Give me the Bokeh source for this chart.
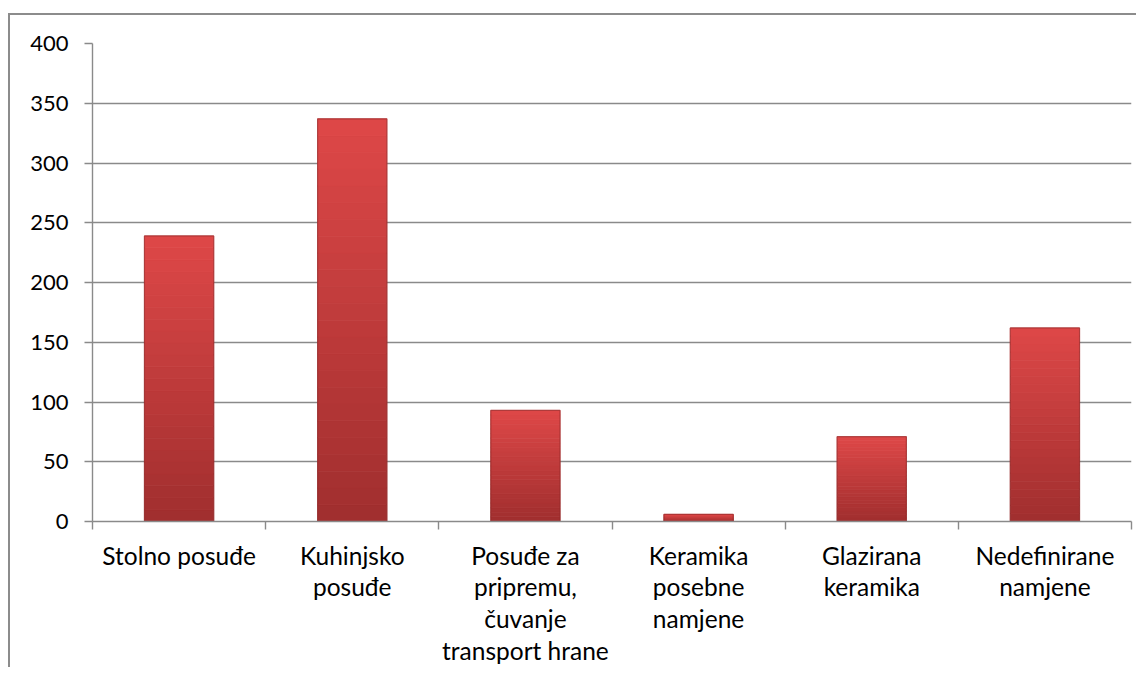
from bokeh.plotting import figure
from bokeh.models import FixedTicker, Range1d, ColumnDataSource
from bokeh.embed import file_html
from bokeh.resources import INLINE

categories = ["Stolno posuđe", "Kuhinjsko posuđe", "Posuđe za pripremu, čuvanje transport hrane",
              "Keramika posebne namjene", "Glazirana keramika", "Nedefinirane namjene"]
tick_labels = ["Stolno posuđe", "Kuhinjsko\nposuđe", "Posuđe za\npripremu,\nčuvanje\ntransport hrane",
               "Keramika\nposebne\nnamjene", "Glazirana\nkeramika", "Nedefinirane\nnamjene"]
values = [239, 337, 93, 6, 71, 162]
y_ticks = [0, 50, 100, 150, 200, 250, 300, 350, 400]

FONT = "Lato"
GRAY = "#8a8a8a"

p = figure(width=1128, height=654, output_backend="svg", toolbar_location=None,
           x_range=Range1d(0, len(categories)), y_range=Range1d(0, 400),
           min_border_left=82, min_border_top=28, min_border_right=7, min_border_bottom=148,
           styles={"border-top": "2px solid #8c8c8c", "border-left": "2px solid #8c8c8c",
                   "margin-top": "13px", "margin-left": "8px"})
p.outline_line_color = None
p.xgrid.grid_line_color = None
p.ygrid.grid_line_color = GRAY
p.ygrid.grid_line_width = 1.4
p.ygrid.ticker = FixedTicker(ticks=y_ticks)

centers = [i + 0.5 for i in range(len(categories))]

# bars with a vertical gradient approximated by slices
N = 24
top_rgb = (222, 72, 72)
bot_rgb = (160, 46, 46)
for k in range(N):
    f0, f1 = k / N, (k + 1) / N
    t = (k + 0.5) / N
    c = tuple(int(round(bot_rgb[j] + (top_rgb[j] - bot_rgb[j]) * t)) for j in range(3))
    col = "#%02x%02x%02x" % c
    src = ColumnDataSource(dict(x=centers,
                                bottom=[v * f0 for v in values],
                                top=[v * f1 for v in values]))
    p.vbar(x="x", bottom="bottom", top="top", width=0.40, source=src,
           fill_color=col, line_color=col, line_width=0.8)
# bevel edges
p.vbar(x=centers, top=values, bottom=0, width=0.40, fill_color=None,
       line_color="#8f2a2a", line_alpha=0.6, line_width=1.2)

# x axis
xa = p.xaxis[0]
xa.ticker = FixedTicker(ticks=centers, minor_ticks=list(range(len(categories) + 1)))
xa.major_label_overrides = {c: lab for c, lab in zip(centers, tick_labels)}
xa.major_tick_out = 0
xa.major_tick_in = 0
xa.minor_tick_out = 8
xa.minor_tick_in = 0
xa.minor_tick_line_color = GRAY
xa.minor_tick_line_width = 1.4
xa.axis_line_color = GRAY
xa.axis_line_width = 1.4
xa.major_label_standoff = 11
xa.major_label_text_font = FONT
xa.major_label_text_font_size = "24.5px"
xa.major_label_text_color = "black"
xa.major_label_text_line_height = 1.1

ya = p.yaxis[0]
ya.ticker = FixedTicker(ticks=y_ticks)
ya.major_tick_out = 8
ya.major_tick_in = 0
ya.minor_tick_line_color = None
ya.major_tick_line_color = GRAY
ya.major_tick_line_width = 1.4
ya.axis_line_color = GRAY
ya.axis_line_width = 1.4
ya.major_label_standoff = 16
ya.major_label_text_font = FONT
ya.major_label_text_font_size = "22px"
ya.major_label_text_color = "black"

open("out.html", "w").write(file_html(p, INLINE))
